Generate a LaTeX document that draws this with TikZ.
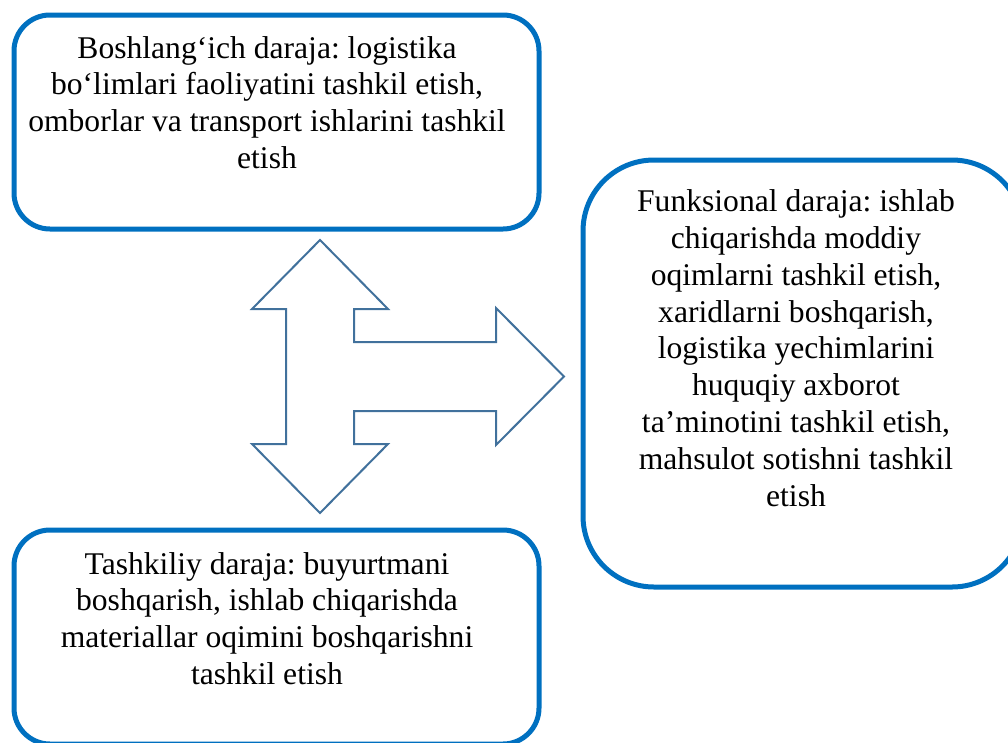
\documentclass[tikz,border=0pt]{standalone}
\usepackage{fontspec}
\setmainfont{Liberation Serif}
\newfontfamily\boxfont{Liberation Serif}
\frenchspacing
\definecolor{boxblue}{HTML}{0070C0}
\definecolor{arrowblue}{HTML}{41719C}
\tikzset{
  roundbox/.style={draw=boxblue, line width=5pt, fill=white, rectangle, inner sep=0pt, outer sep=0pt},
  boxtext/.style={align=center, inner sep=0pt, anchor=north, font=\boxfont\frenchspacing\fontsize{31.6}{36.8}\selectfont},
  bigarrow/.style={draw=arrowblue, line width=2pt, fill=white, line join=miter}
}
\begin{document}
\begin{tikzpicture}[x=1pt, y=-1pt]
\useasboundingbox (0,0) rectangle (1008,742);
\clip (0,0) rectangle (1008,742);
% boxes
\node[roundbox, rounded corners=36pt, minimum width=525pt, minimum height=214pt] (b1) at (276.5,122) {};
\node[roundbox, rounded corners=71pt, minimum width=440pt, minimum height=427pt] (b2) at (803,373.5) {};
\node[roundbox, rounded corners=36pt, minimum width=525pt, minimum height=214pt] (b3) at (276.5,637) {};
% texts
\node[boxtext] (t1) at (267,36) {Boshlang‘ich daraja: logistika\\bo‘limlari faoliyatini tashkil etish,\\omborlar va transport ishlarini tashkil\\etish};
\node[boxtext] (t2) at (796,189.5) {Funksional daraja: ishlab\\chiqarishda moddiy\\oqimlarni tashkil etish,\\xaridlarni boshqarish,\\logistika yechimlarini\\huquqiy axborot\\ta’minotini tashkil etish,\\mahsulot sotishni tashkil\\etish};
\node[boxtext] (t3) at (267,552) {Tashkiliy daraja: buyurtmani\\boshqarish, ishlab chiqarishda\\materiallar oqimini boshqarishni\\tashkil etish};
% three-way block arrow
\draw[bigarrow] (320,240) -- (388,309) -- (354,309) -- (354,342) -- (496,342) -- (496,308)
  -- (564,376.5) -- (496,445) -- (496,411) -- (354,411) -- (354,444) -- (388,444)
  -- (320,513) -- (252,444) -- (286,444) -- (286,309) -- (252,309) -- cycle;
\end{tikzpicture}
\end{document}
